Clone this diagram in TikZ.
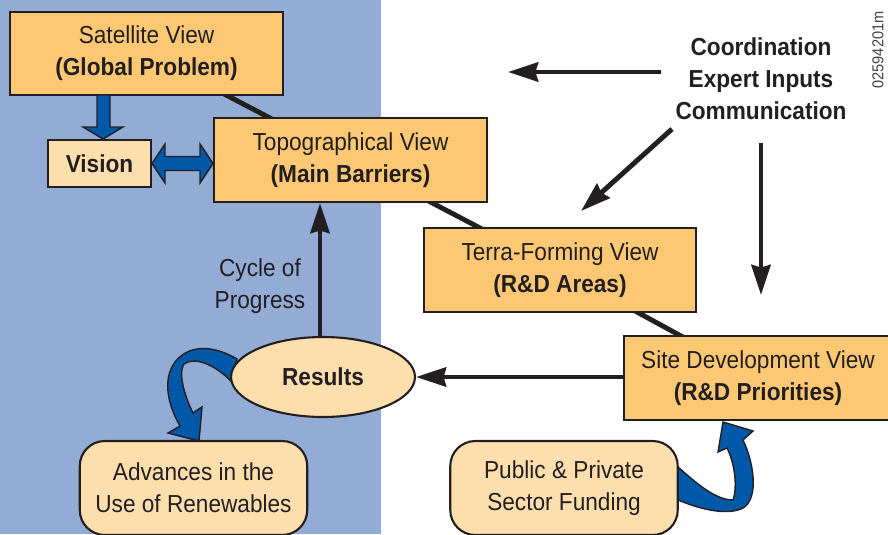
\documentclass[tikz,border=0pt]{standalone}
\usepackage{fontspec}
\setmainfont{Liberation Sans}[FakeStretch=0.92]
\usetikzlibrary{arrows.meta,shapes.geometric}
\definecolor{boxorange}{HTML}{FCC874}
\definecolor{boxlight}{HTML}{FDDFAE}
\definecolor{panelblue}{HTML}{92ACD6}
\definecolor{arrowblue}{HTML}{0059A8}
\definecolor{ink}{HTML}{231F20}
\pgfdeclarelayer{panel}
\pgfdeclarelayer{links}
\pgfsetlayers{panel,links,main}
\tikzset{
  txt/.style={font=\fontsize{14}{18.2}\selectfont, text=ink, align=center, inner sep=0pt},
  viewbox/.style={txt, draw=ink, line width=1.2pt, fill=boxorange, minimum height=1.68cm},
  softbox/.style={txt, draw=ink, line width=1.2pt, fill=boxlight, rounded corners=0.5cm, minimum width=4.55cm, minimum height=1.88cm},
  flow/.style={draw=ink, line width=2.8pt, -{Stealth[length=0.6cm,width=0.38cm,inset=0.05cm]}},
  blockarrow/.style={fill=arrowblue, draw=ink, line width=0.8pt}
}
\begin{document}
\begin{tikzpicture}[x=0.02cm, y=-0.02cm]
\useasboundingbox (0,0) rectangle (888,534);
\begin{pgfonlayer}{panel}
\fill[panelblue] (0,0) rectangle (381,534);
\end{pgfonlayer}
% the four views
\node[viewbox, minimum width=5.46cm, minimum height=1.66cm] (sat) at (146.5,53.5) {Satellite View\\\textbf{(Global Problem)}};
\node[viewbox, minimum width=5.46cm] (topo) at (350.5,160) {Topographical View\\\textbf{(Main Barriers)}};
\node[viewbox, minimum width=5.44cm] (terra) at (560,270) {Terra-Forming View\\\textbf{(R\&D Areas)}};
\node[viewbox, minimum width=5.36cm] (site) at (758,378) {Site Development View\\\textbf{(R\&D Priorities)}};
\node[txt, draw=ink, line width=1.2pt, fill=boxlight, minimum width=2.06cm, minimum height=0.94cm] (vision) at (99.5,163.5) {\textbf{Vision}};
\node[txt, ellipse, draw=ink, line width=1.2pt, fill=boxlight, minimum width=3.68cm, minimum height=1.6cm] (results) at (323,377) {\textbf{Results}};
\node[softbox] (adv) at (193.5,488) {Advances in the\\Use of Renewables};
\node[softbox] (fund) at (564,488) {Public \& Private\\Sector Funding};
\node[txt] (cycle) at (260,286) {Cycle of\\Progress};
\node[txt, font=\bfseries\fontsize{14}{18.2}\selectfont] (coord) at (761,79) {Coordination\\Expert Inputs\\Communication};
\node[rotate=90, font=\fontsize{9}{10}\selectfont, text=ink!85] (code) at (878,50) {02594201m};
\begin{pgfonlayer}{links}
\draw[ink, line width=2.8pt] (sat.center) -- (topo.center) -- (terra.center) -- (site.center);
% curved block arrows
\draw[blockarrow] (237,359) .. controls (215,346) and (190,343) .. (175,362)
  .. controls (162,380) and (168,405) .. (180,426) -- (168,433) -- (199,441) -- (202,407) -- (193,413)
  .. controls (184,395) and (178,372) .. (184,364) .. controls (195,356) and (215,365) .. (231,381) -- cycle;
\draw[blockarrow] (678,467) .. controls (695,482) and (715,500) .. (733,500)
  .. controls (738,485) and (734,462) .. (727,448) -- (718,452) -- (723,422) -- (753,431) -- (743,440)
  .. controls (755,465) and (760,505) .. (738,510) .. controls (720,515) and (695,507) .. (678,500) -- cycle;
\end{pgfonlayer}
% straight block arrows
\draw[blockarrow] (97,95) -- (97,127) -- (83,127) -- (103,139) -- (123,127) -- (110,127) -- (110,95) -- cycle;
\draw[blockarrow] (152,163.5) -- (165,144) -- (165,156.5) -- (200,156.5) -- (200,144) -- (213,163.5)
  -- (200,183) -- (200,170.5) -- (165,170.5) -- (165,183) -- cycle;
% black arrows
\coordinate (c1) at (661,72);
\coordinate (t1) at (508,72);
\coordinate (c2) at (672,129);
\coordinate (t2) at (581,211);
\coordinate (c3) at (761,143);
\coordinate (t3) at (761,295);
\draw[flow] (c1) -- (t1);
\draw[flow] (c2) -- (t2);
\draw[flow] (c3) -- (t3);
\draw[flow] (site.west |- results.east) -- (results.east);
\draw[flow] (results.north -| 320,0) -- (topo.south -| 320,0);
\end{tikzpicture}
\end{document}
